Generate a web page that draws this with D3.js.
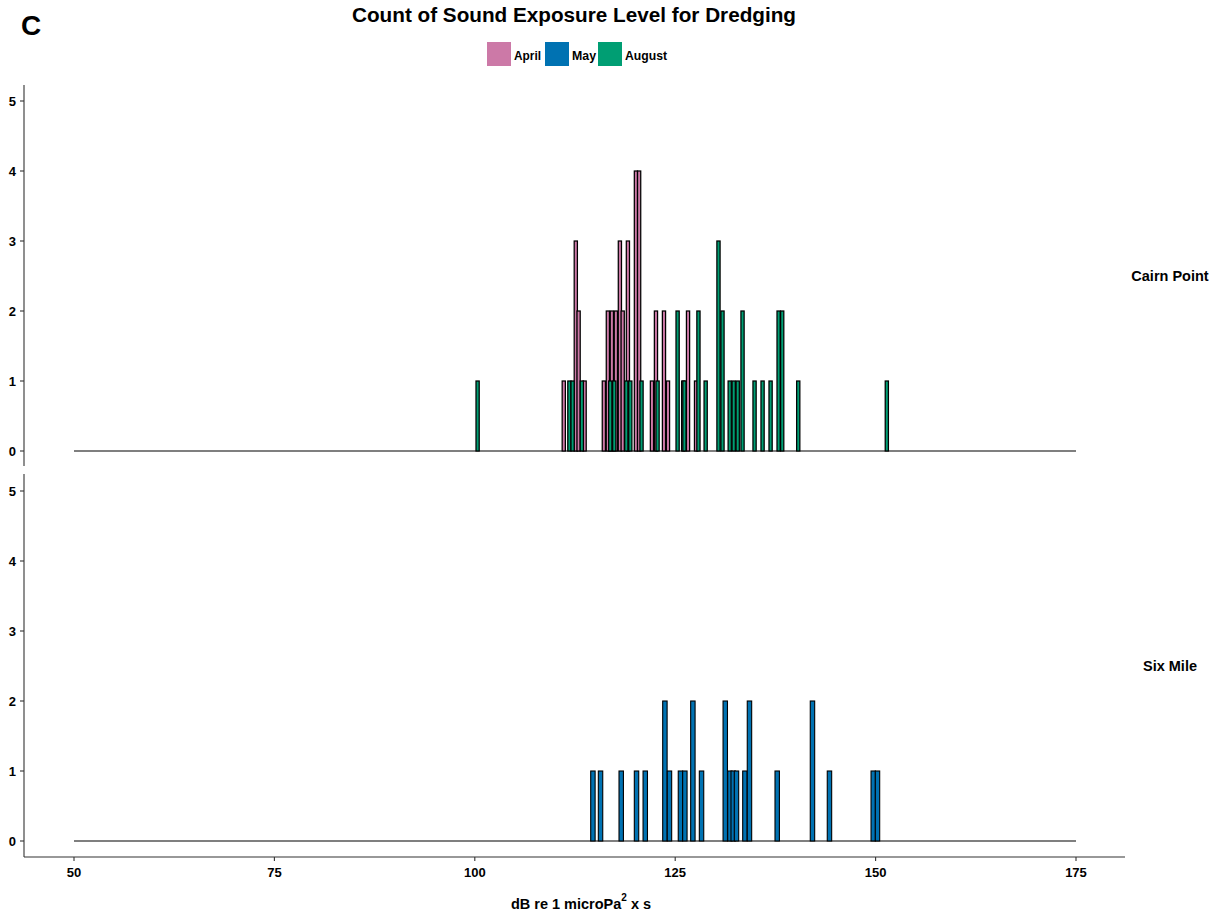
<!DOCTYPE html>
<html>
<head>
<meta charset="utf-8">
<script src="https://cdn.jsdelivr.net/npm/d3@7"></script>
<style>
  body { margin: 0; background: #fff; }
  svg { font-family: "Liberation Sans", Arial, sans-serif; }
</style>
</head>
<body>
<svg id="chart" width="1220" height="915"></svg>
<script>
// ---- data ----
const months = ["April", "May", "August"];
const monthColors = ["#CC79A7", "#0072B2", "#009E73"];
const sites = ["Cairn Point", "Six Mile"];

// Cairn Point, April: bin position (dB) and count
const cairnAprilSEL   = [110.9, 112.4, 112.75, 113.5, 115.9, 116.4, 116.9, 117.4, 117.9, 118.25, 118.9, 119.9, 120.3, 121.9, 122.4, 123.4, 123.9, 125.8, 126.4, 127.4];
const cairnAprilCount = [1, 3, 2, 1, 1, 2, 2, 2, 3, 2, 3, 4, 4, 1, 2, 2, 1, 1, 2, 1];

// Cairn Point, August
const cairnAugustSEL   = [100.15, 111.6, 112.0, 113.15, 116.7, 117.2, 118.7, 119.2, 120.6, 122.6, 125.1, 125.95, 127.7, 128.6, 130.2, 130.7, 131.6, 132.1, 132.6, 133.2, 134.7, 135.7, 136.7, 137.7, 138.15, 140.15, 151.2];
const cairnAugustCount = [1, 1, 1, 1, 1, 1, 1, 1, 1, 1, 2, 1, 2, 1, 3, 2, 1, 1, 1, 2, 1, 1, 1, 2, 2, 1, 1];

// Six Mile, May
const sixMaySEL   = [114.46, 115.41, 117.99, 119.9, 120.99, 123.44, 124.01, 125.38, 125.93, 126.93, 128.01, 130.97, 131.55, 131.96, 132.37, 133.42, 133.99, 137.45, 141.85, 143.97, 149.43, 149.96];
const sixMayCount = [1, 1, 1, 1, 1, 2, 1, 1, 1, 2, 1, 2, 1, 1, 1, 1, 2, 1, 2, 1, 1, 1];

const xTicks = [50, 75, 100, 125, 150, 175];
const yTicks = [0, 1, 2, 3, 4, 5];
const xRangeData = [50, 175];
const xTitleMain = "dB re 1 microPa";
const xTitleSup = "2";
const xTitleEnd = " x s";
const titleText = "Count of Sound Exposure Level for Dredging";
const tagText = "C";

// ---- layout ----
const svg = d3.select("#chart");
const x = d3.scaleLinear().domain([50, 175]).range([74, 1076]);
const panels = [
  { site: sites[0], top: 85, bottom: 466, y0: 451, y5: 101, barW: 0.4, sw: 1.25,
    series: [
      { m: 0, sel: cairnAprilSEL, cnt: cairnAprilCount },
      { m: 2, sel: cairnAugustSEL, cnt: cairnAugustCount }
    ] },
  { site: sites[1], top: 474, bottom: 857, y0: 841, y5: 491, barW: 0.55, sw: 1.1,
    series: [
      { m: 1, sel: sixMaySEL, cnt: sixMayCount }
    ] }
];

const axisColor = "#333";

panels.forEach((p, pi) => {
  const y = d3.scaleLinear().domain([0, 5]).range([p.y0, p.y5]);
  const g = svg.append("g");

  // zero-count baseline of the histogram
  g.append("line")
    .attr("x1", x(xRangeData[0])).attr("x2", x(xRangeData[1]))
    .attr("y1", y(0)).attr("y2", y(0))
    .attr("stroke", "#000").attr("stroke-width", 1.2);

  // bars
  p.series.forEach(s => {
    const data = s.sel.map((v, i) => ({ v, c: s.cnt[i] }));
    g.selectAll(null).data(data).enter().append("rect")
      .attr("x", d => x(d.v))
      .attr("width", d => x(d.v + p.barW) - x(d.v))
      .attr("y", d => y(d.c))
      .attr("height", d => y(0) - y(d.c))
      .attr("fill", monthColors[s.m])
      .attr("stroke", "#000")
      .attr("stroke-width", p.sw);
  });

  // y axis
  g.append("line").attr("x1", 24).attr("x2", 24).attr("y1", p.top).attr("y2", p.bottom)
    .attr("stroke", axisColor).attr("stroke-width", 1.1);
  yTicks.forEach(t => {
    g.append("line").attr("x1", 20).attr("x2", 24).attr("y1", y(t)).attr("y2", y(t))
      .attr("stroke", axisColor).attr("stroke-width", 1.1);
    g.append("text").attr("x", 16).attr("y", y(t)).attr("dy", "0.36em")
      .attr("text-anchor", "end").attr("font-size", 13).attr("font-weight", "bold")
      .text(t);
  });

  // strip label
  g.append("text").attr("x", 1170).attr("y", (p.top + p.bottom) / 2)
    .attr("dy", "0.36em").attr("text-anchor", "middle")
    .attr("font-size", 14.5).attr("font-weight", "bold").text(p.site);
});

// x axis (bottom panel only)
const xa = svg.append("g");
xa.append("line").attr("x1", 24).attr("x2", 1125).attr("y1", 857).attr("y2", 857)
  .attr("stroke", axisColor).attr("stroke-width", 1.1);
xTicks.forEach(t => {
  xa.append("line").attr("x1", x(t)).attr("x2", x(t)).attr("y1", 857).attr("y2", 861)
    .attr("stroke", axisColor).attr("stroke-width", 1.1);
  xa.append("text").attr("x", x(t)).attr("y", 877).attr("text-anchor", "middle")
    .attr("font-size", 13).attr("font-weight", "bold").text(t);
});

// x title with superscript
const xt = svg.append("text").attr("x", 581).attr("y", 909).attr("text-anchor", "middle")
  .attr("font-size", 14.5).attr("font-weight", "bold");
xt.append("tspan").text(xTitleMain);
xt.append("tspan").attr("dy", -8).attr("font-size", 10).text(xTitleSup);
xt.append("tspan").attr("dy", 8).text(xTitleEnd);

// title
svg.append("text").attr("x", 574).attr("y", 22).attr("text-anchor", "middle")
  .attr("font-size", 20).attr("font-weight", "bold")
  .attr("textLength", 444).attr("lengthAdjust", "spacingAndGlyphs")
  .text(titleText);

// tag
svg.append("text").attr("x", 21).attr("y", 35).attr("font-size", 28).attr("font-weight", "bold")
  .text(tagText);

// legend
const legendX = [487, 545, 598];
const legendLabelW = [27, 24, 42];
months.forEach((m, i) => {
  svg.append("rect").attr("x", legendX[i]).attr("y", 42).attr("width", 24).attr("height", 24)
    .attr("fill", monthColors[i]);
  svg.append("text").attr("x", legendX[i] + 27).attr("y", 60)
    .attr("font-size", 12).attr("font-weight", "bold")
    .attr("textLength", legendLabelW[i]).attr("lengthAdjust", "spacingAndGlyphs")
    .text(m);
});
</script>
</body>
</html>
